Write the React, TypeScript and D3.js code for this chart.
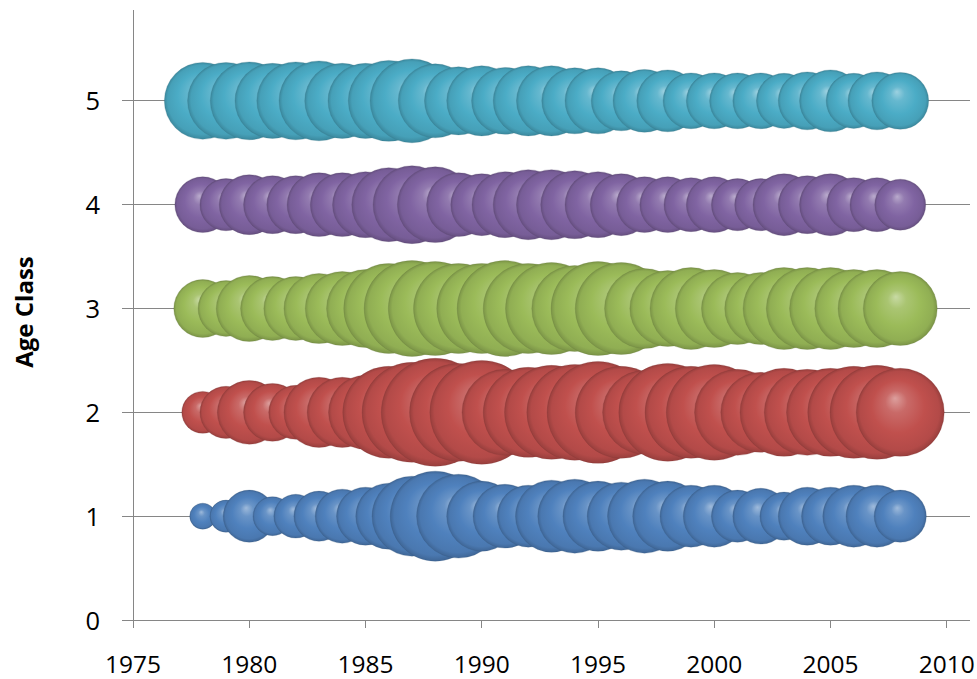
import React from "react";
import * as d3 from "d3";

// Categories
const years = [
  1978, 1979, 1980, 1981, 1982, 1983, 1984, 1985, 1986, 1987, 1988, 1989, 1990, 1991, 1992, 1993,
  1994, 1995, 1996, 1997, 1998, 1999, 2000, 2001, 2002, 2003, 2004, 2005, 2006, 2007, 2008,
];
const ageClasses = [1, 2, 3, 4, 5];

// Bubble sizes (relative abundance) per age class, one value per year
const age1 = [17, 26, 68, 38, 48, 63, 73, 84, 109, 160, 203, 176, 123, 102, 96, 130, 137, 123, 116, 137, 123, 96, 96, 68, 78, 58, 84, 84, 96, 96, 68];
const age2 = [44, 68, 102, 84, 73, 123, 123, 137, 212, 250, 292, 240, 270, 185, 203, 221, 230, 260, 212, 176, 240, 212, 230, 185, 160, 194, 185, 194, 212, 221, 194];
const age3 = [84, 78, 109, 102, 102, 123, 137, 152, 203, 230, 221, 203, 203, 230, 203, 212, 185, 221, 212, 160, 144, 168, 152, 130, 130, 168, 168, 168, 152, 152, 137];
const age4 = [78, 68, 90, 84, 84, 102, 102, 109, 137, 152, 144, 102, 96, 109, 123, 123, 116, 109, 96, 78, 78, 73, 78, 68, 68, 96, 84, 96, 73, 73, 65];
const age5 = [148, 148, 152, 141, 152, 160, 141, 141, 164, 176, 137, 116, 123, 112, 123, 123, 109, 109, 90, 99, 96, 78, 78, 78, 78, 76, 84, 96, 76, 84, 81];

// Axis ticks
const xTicks = [1975, 1980, 1985, 1990, 1995, 2000, 2005, 2010];
const yTicks = [0, 1, 2, 3, 4, 5];

const yTitle = "Age Class";

const seriesValues = [age1, age2, age3, age4, age5];
const seriesColors = ["#4F81BD", "#C0504D", "#9BBB59", "#8064A2", "#4BACC6"];

export default function App() {
  const W = 977;
  const H = 679;
  const x = d3.scaleLinear().domain([1975, 2011]).range([133, 970]);
  const y = d3.scaleLinear().domain([0, 5.875]).range([620, 10]);
  const maxV = d3.max(seriesValues.flat()) as number;
  const r = d3.scaleSqrt().domain([0, maxV]).range([0, 54]);
  const axisColor = "#868686";
  const font = "'Open Sans', 'Noto Sans', sans-serif";

  const white = d3.rgb(255, 255, 255);

  return (
    <svg
      width={W}
      height={H}
      viewBox={`0 0 ${W} ${H}`}
      style={{ position: "absolute", left: 0, top: 0, background: "#fff" }}
    >
      <defs>
        {seriesColors.map((c, i) => {
          const base = d3.rgb(c);
          return (
            <radialGradient key={i} id={`sph${i}`} cx="50%" cy="50%" r="50%" fx="44%" fy="34%">
              <stop offset="0%" stopColor={d3.interpolateRgb(base, white)(0.45)} />
              <stop offset="25%" stopColor={d3.interpolateRgb(base, white)(0.15)} />
              <stop offset="60%" stopColor={base.toString()} />
              <stop offset="90%" stopColor={base.darker(0.2).toString()} />
              <stop offset="100%" stopColor={base.darker(0.65).toString()} />
            </radialGradient>
          );
        })}
      </defs>

      {/* horizontal gridlines */}
      {yTicks
        .filter((t) => t > 0)
        .map((t) => (
          <line
            key={`g${t}`}
            x1={x(1975)}
            x2={x(2011)}
            y1={y(t)}
            y2={y(t)}
            stroke={axisColor}
            strokeWidth={1}
            shapeRendering="crispEdges"
          />
        ))}

      {/* bubbles */}
      {seriesValues.map((vals, si) => (
        <g key={`s${si}`}>
          {vals.map((v, i) => (
            <circle
              key={i}
              cx={x(years[i])}
              cy={y(ageClasses[si])}
              r={r(v)}
              fill={`url(#sph${si})`}
              stroke={d3.rgb(seriesColors[si]).darker(1.2).toString()}
              strokeOpacity={0.3}
              strokeWidth={0.8}
            />
          ))}
        </g>
      ))}

      {/* axes */}
      <line x1={x(1975)} x2={x(1975)} y1={y(5.875)} y2={y(0)} stroke={axisColor} strokeWidth={1} shapeRendering="crispEdges" />
      <line x1={x(1975)} x2={x(2011)} y1={y(0)} y2={y(0)} stroke={axisColor} strokeWidth={1} shapeRendering="crispEdges" />

      {yTicks.map((t) => (
        <g key={`yt${t}`}>
          <line x1={x(1975) - 11} x2={x(1975)} y1={y(t)} y2={y(t)} stroke={axisColor} strokeWidth={1} shapeRendering="crispEdges" />
          <text
            x={100}
            y={y(t) + 9.5}
            textAnchor="end"
            fontFamily={font}
            fontSize={25.5}
            fill="#000"
          >
            {t}
          </text>
        </g>
      ))}

      {xTicks.map((t) => (
        <g key={`xt${t}`}>
          <line x1={x(t)} x2={x(t)} y1={y(0)} y2={y(0) + 8} stroke={axisColor} strokeWidth={1} shapeRendering="crispEdges" />
          <text x={x(t)} y={673} textAnchor="middle" fontFamily={font} fontSize={24.5} fill="#000">
            {t}
          </text>
        </g>
      ))}

      <text
        transform={`translate(33, 312) rotate(-90)`}
        textAnchor="middle"
        fontFamily={font}
        fontWeight="bold"
        fontSize={24}
        fill="#000"
      >
        {yTitle}
      </text>
    </svg>
  );
}
